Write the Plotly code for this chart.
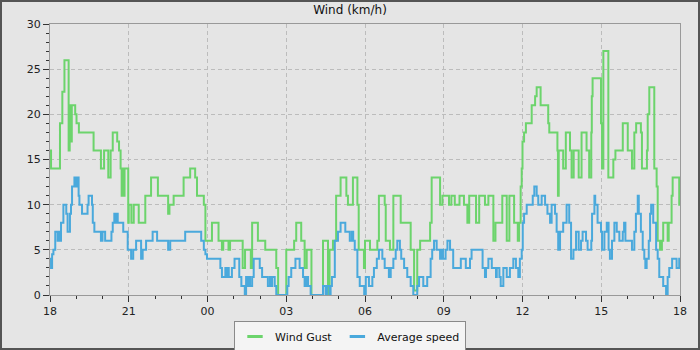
import plotly.graph_objects as go

# Hours since 18:00 at which each step starts, and the value of that step (km/h)
gust_hours = [
    0, 0.04, 0.38, 0.47, 0.55, 0.71, 0.75, 0.80, 0.83, 0.96,
    1.01, 1.10, 1.66, 1.94, 2.06, 2.22, 2.31, 2.39, 2.56, 2.63,
    2.69, 2.73, 2.77, 2.80, 2.84, 2.98, 3.00, 3.10, 3.19, 3.38,
    3.63, 3.85, 4.11, 4.50, 4.55, 4.71, 5.09, 5.34, 5.53, 5.60,
    5.86, 5.92, 6.17, 6.42, 6.55, 6.60, 6.80, 6.86, 7.34, 7.43,
    7.65, 7.70, 7.92, 8.20, 8.62, 8.69, 9.00, 9.30, 9.38, 9.57,
    9.70, 9.78, 9.96, 10.40, 10.59, 10.65, 10.78, 10.90, 11.07, 11.29,
    11.35, 11.54, 11.71, 11.76, 11.96, 12.00, 12.19, 12.47, 12.53, 12.75,
    12.79, 12.95, 13.08, 13.36, 13.74, 13.87, 13.99, 14.10, 14.48, 14.54,
    14.86, 14.95, 15.20, 15.29, 15.42, 15.60, 15.77, 15.90, 15.97, 16.23,
    16.35, 16.57, 16.70, 16.89, 16.97, 17.23, 17.40, 17.50, 17.68, 17.82,
    17.87, 17.93, 17.97, 18.00, 18.06, 18.13, 18.35, 18.48, 18.54, 18.69,
    18.98, 19.02, 19.33, 19.35, 19.38, 19.55, 19.65, 19.81, 19.87, 19.95,
    20.14, 20.25, 20.44, 20.54, 20.62, 20.64, 20.67, 20.99, 21.03, 21.08,
    21.27, 21.46, 21.54, 21.82, 22.01, 22.17, 22.26, 22.33, 22.51, 22.55,
    22.74, 22.77, 22.83, 23.02, 23.11, 23.15, 23.24, 23.31, 23.36, 23.53,
    23.57, 23.68, 23.72, 23.97, 24.00,
]
gust_kmh = [
    16, 14, 19, 22.5, 26, 16, 21, 17, 21, 20,
    19, 18, 16, 14, 16, 13, 16, 18, 17, 16,
    14, 11, 14, 11, 14, 8, 10, 8, 10, 8,
    11, 13, 11, 9, 10, 11, 13, 14, 13, 11,
    10, 6, 8, 6, 5, 6, 5, 6, 3, 5,
    3, 8, 6, 5, 3, 0, 5, 6, 8, 6,
    3, 5, 0, 6, 0, 5, 6, 11, 13, 11,
    10, 13, 10, 5, 3, 6, 5, 6, 11, 10,
    6, 5, 11, 8, 5, 0.5, 5, 6, 8, 13,
    10, 11, 10, 11, 10, 11, 10, 8, 11, 8,
    11, 10, 11, 6, 8, 11, 6, 11, 8, 6,
    8, 12, 14, 17, 18, 19, 21, 22, 23, 21,
    19, 18, 16, 11, 16, 14, 18, 16, 13, 16,
    13, 18, 16, 13, 18, 22, 24, 19, 14, 27,
    13, 15, 16, 19, 16, 14, 18, 19, 18, 14,
    16, 20, 23, 14, 12, 6, 5, 6, 8, 6,
    8, 11, 13, 10, 10,
]

avg_hours = [
    0, 0.04, 0.08, 0.13, 0.20, 0.29, 0.33, 0.36, 0.42, 0.51,
    0.62, 0.67, 0.76, 0.80, 0.84, 0.93, 1.00, 1.04, 1.09, 1.12,
    1.22, 1.43, 1.47, 1.60, 1.63, 1.69, 1.94, 2.00, 2.10, 2.34,
    2.39, 2.45, 2.50, 2.53, 2.58, 2.79, 2.96, 3.09, 3.17, 3.28,
    3.47, 3.53, 3.66, 3.91, 4.08, 4.50, 4.58, 5.15, 5.76, 5.86,
    5.92, 5.98, 6.49, 6.55, 6.68, 6.72, 6.78, 6.81, 6.93, 7.03,
    7.21, 7.29, 7.42, 7.47, 7.50, 7.57, 7.62, 7.70, 7.76, 7.99,
    8.08, 8.30, 8.38, 8.42, 8.46, 8.56, 8.62, 9.04, 9.09, 9.19,
    9.35, 9.51, 9.64, 9.70, 9.76, 9.83, 9.93, 10.40, 10.50, 10.55,
    10.65, 10.69, 10.74, 10.85, 10.97, 11.07, 11.25, 11.42, 11.50, 11.55,
    11.61, 11.71, 11.80, 11.97, 12.03, 12.15, 12.28, 12.34, 12.45, 12.53,
    12.66, 12.75, 12.91, 12.98, 13.08, 13.17, 13.23, 13.33, 13.38, 13.49,
    13.61, 13.74, 13.84, 13.99, 14.06, 14.22, 14.37, 14.50, 14.56, 14.63,
    14.73, 14.86, 14.92, 14.97, 15.07, 15.14, 15.24, 15.36, 15.65, 15.84,
    16.00, 16.06, 16.48, 16.57, 16.61, 16.70, 16.83, 16.99, 17.02, 17.12,
    17.17, 17.27, 17.40, 17.52, 17.65, 17.75, 17.84, 17.90, 17.97, 18.01,
    18.06, 18.16, 18.39, 18.45, 18.54, 18.60, 18.73, 18.86, 18.95, 19.05,
    19.11, 19.24, 19.30, 19.36, 19.43, 19.55, 19.68, 19.78, 19.85, 19.94,
    20.04, 20.14, 20.23, 20.29, 20.42, 20.48, 20.62, 20.65, 20.74, 20.77,
    20.86, 20.99, 21.03, 21.12, 21.21, 21.28, 21.33, 21.41, 21.50, 21.59,
    21.69, 21.82, 21.87, 21.92, 22.17, 22.26, 22.32, 22.39, 22.43, 22.51,
    22.58, 22.64, 22.68, 22.73, 22.81, 22.86, 22.90, 22.98, 23.09, 23.15,
    23.21, 23.36, 23.47, 23.53, 23.59, 23.70, 23.87, 23.97, 24.00,
]
avg_kmh = [
    4, 3, 4.5, 5, 7, 6, 7, 6, 8, 10,
    9, 7, 9, 10, 12, 13, 12, 13, 11, 10,
    9, 10, 11, 10, 8, 7, 6, 7, 6, 7,
    8, 9, 8, 9, 8, 7, 5, 4, 5, 6,
    4, 5, 6, 7, 6, 5, 6, 7, 6, 5,
    4.5, 4, 3, 2, 3, 2, 3, 2, 3, 4,
    2, 1, 0, 2, 1, 2, 1, 2, 4, 3,
    2, 1, 2, 1, 2, 1, 0, 1, 2, 3,
    4, 3, 2, 1, 2, 1, 0, 1, 0, 1,
    0, 1, 2, 6, 7, 8, 7, 6, 7, 6,
    5, 2, 1, 0, 2, 1, 2, 3, 4, 5,
    4, 3, 2, 3, 4, 5, 6, 5, 4, 3,
    2, 1, 0, 1, 2, 1, 2, 4, 5, 6,
    5, 4, 5, 4, 5, 6, 5, 3, 4, 3,
    4, 5, 3, 2, 3, 4, 3, 2, 3, 2,
    1, 3, 2, 3, 4, 3, 2, 4, 5, 8,
    9, 10, 11, 12, 11, 10, 11, 10, 9, 8,
    10, 9, 7, 5, 7, 8, 10, 8, 4, 5,
    7, 5, 6, 7, 6, 5, 6, 9, 11, 10,
    8, 7, 5, 7, 8, 5, 4, 6, 8, 7,
    6, 7, 8, 6, 5, 7, 9, 11, 9, 7,
    5, 4, 3, 4, 6, 9, 10, 8, 5, 4,
    2, 1, 0, 2, 3, 4, 3, 4, 4,
]

x_tick_vals = [0, 3, 6, 9, 12, 15, 18, 21, 24]
x_tick_labels = ["18", "21", "00", "03", "06", "09", "12", "15", "18"]
y_tick_vals = [0, 5, 10, 15, 20, 25, 30]

series_names = ["Wind Gust", "Average speed"]
series_colors = ["#6cd46c", "#4aa9dc"]

assert len(gust_hours) == len(gust_kmh)
assert len(avg_hours) == len(avg_kmh)

FONT = "DejaVu Sans"
BG = "#e5e5e5"

fig = go.Figure()
for name, color, xs, ys in [
    (series_names[0], series_colors[0], gust_hours, gust_kmh),
    (series_names[1], series_colors[1], avg_hours, avg_kmh),
]:
    fig.add_trace(go.Scatter(
        x=xs, y=ys, mode="lines", line=dict(color=color, width=2, shape="hv"),
        name=name, showlegend=False, hoverinfo="skip",
    ))

# legend entries with short line symbols
for name, color in zip(series_names, series_colors):
    fig.add_trace(go.Scatter(
        x=[None], y=[None], mode="markers", name=name,
        marker=dict(symbol="line-ew", size=11, color=color,
                    line=dict(color=color, width=3)),
    ))

W, H = 700, 350
L, R, T, B = 50, 20, 24, 55
pw, ph = W - L - R, H - T - B

axis_common = dict(
    showline=True, linecolor="#999999", linewidth=1, mirror=True,
    showgrid=True, gridcolor="#bcbcbc", griddash="4px,3px", gridwidth=1,
    ticks="outside", ticklen=6, tickcolor="#333333", tickwidth=1,
    tickfont=dict(family=FONT, size=11, color="#222222"),
    zeroline=False, fixedrange=True, automargin=False,
)

fig.update_xaxes(
    range=[0, 24], tickmode="array", tickvals=x_tick_vals, ticktext=x_tick_labels,
    minor=dict(dtick=1, tick0=0, ticks="outside", ticklen=3, tickcolor="#333333", showgrid=False),
    **axis_common,
)
fig.update_yaxes(
    range=[0, 30], tickmode="array", tickvals=y_tick_vals,
    minor=dict(dtick=1, tick0=0, ticks="outside", ticklen=3, tickcolor="#333333", showgrid=False),
    **axis_common,
)

fig.update_layout(
    width=W, height=H,
    margin=dict(l=L, r=R, t=T, b=B, pad=0, autoexpand=False),
    paper_bgcolor=BG, plot_bgcolor=BG,
    font=dict(family=FONT, size=11, color="#222222"),
    title=dict(text="Wind (km/h)", x=0.5, xanchor="center",
               y=1 - 10 / H, yanchor="middle", yref="container",
               font=dict(family=FONT, size=12, color="#111111")),
    showlegend=True,
    legend=dict(orientation="h", x=(350 - L) / pw, xanchor="center",
                y=-(321 - (T + ph)) / ph, yanchor="top",
                bgcolor="#f4f4f4", bordercolor="#8a8a8a", borderwidth=1,
                font=dict(family=FONT, size=11, color="#111111"),
                itemwidth=30, tracegroupgap=0),
    shapes=[dict(
        type="rect", xref="paper", yref="paper",
        x0=-(L - 1) / pw, x1=(W - L - 1) / pw,
        y0=-(B - 1) / ph, y1=1 + (T - 1) / ph,
        line=dict(color="#555555", width=2), fillcolor="rgba(0,0,0,0)", layer="above",
    )],
)

fig.write_html("out.html")
